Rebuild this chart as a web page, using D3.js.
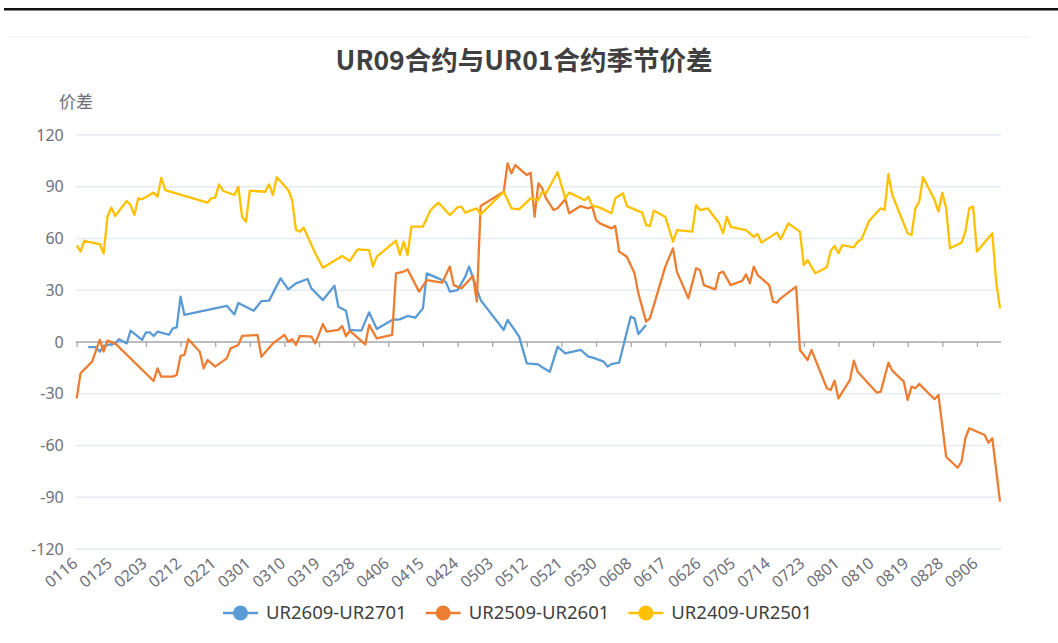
<!DOCTYPE html>
<html><head><meta charset="utf-8">
<script src="https://cdn.jsdelivr.net/npm/d3@7"></script>
<style>body{margin:0;background:#fff;} svg{display:block;}</style>
</head><body>
<svg id="c" width="1058" height="643"></svg>
<script>
const chartTitle = "UR09合约与UR01合约季节价差";
const yAxisName = "价差";
const yTicks = [-120, -90, -60, -30, 0, 30, 60, 90, 120];
const tickLabels = ["0116","0125","0203","0212","0221","0301","0310","0319","0328","0406","0415","0424","0503","0512","0521","0530","0608","0617","0626","0705","0714","0723","0801","0810","0819","0828","0906"];
const seriesNames = ["UR2609-UR2701", "UR2509-UR2601", "UR2409-UR2501"];
const seriesColors = ["#5B9BD5", "#ED7D31", "#FFC000"];

const ur2609 = [["0119",-3],["0121",-3],["0122",-5.6],["0123",-2.3],["0126",-0.8],["0127",1.6],["0129",-0.8],["0130",6.6],["0202",1.2],["0203",5.6],["0204",5.6],["0205",3.5],["0206",6],["0209",4.2],["0210",7.9],["0211",8.5],["0212",26.3],["0213",15.7],["0224",21],["0226",16],["0227",22.6],["0302",18.1],["0304",23.7],["0306",24],["0309",36.9],["0311",30.5],["0313",34],["0316",36.5],["0317",31.1],["0320",24.3],["0323",32.6],["0324",20.5],["0326",18.1],["0327",7],["0330",6.6],["0401",17.2],["0403",7.5],["0407",12.8],["0409",13.1],["0411",15.1],["0413",14.1],["0415",19.5],["0416",39.8],["0419",36.9],["0421",34.6],["0422",29.2],["0424",30.1],["0426",37.9],["0427",43.7],["0430",24.3],["0506",7],["0507",12.8],["0509",6.4],["0510",3.1],["0512",-12.4],["0515",-13],["0516",-14.7],["0518",-17.2],["0520",-2.7],["0522",-6.6],["0526",-4.6],["0528",-8.5],["0529",-8.9],["0601",-11.4],["0602",-14.3],["0603",-12.8],["0605",-12],["0608",14.7],["0609",13.7],["0610",4.6],["0612",9.9]];

const ur2509 = [["0116",-32.7],["0117",-18.1],["0120",-11.4],["0122",1.2],["0123",-5.6],["0124",0.8],["0126",-0.8],["0205",-22.6],["0206",-15.3],["0207",-20.1],["0210",-20.1],["0211",-19.1],["0212",-8.1],["0213",-7.5],["0214",1.6],["0217",-5.6],["0218",-15.3],["0219",-10.4],["0221",-14.3],["0224",-9.5],["0225",-3.7],["0227",-1.7],["0228",3.5],["0303",4.1],["0304",-8.5],["0307",-0.8],["0310",4.1],["0311",0.2],["0312",1.6],["0313",-1.7],["0314",3.5],["0317",3.1],["0318",-0.8],["0320",10.4],["0321",6],["0324",7],["0325",9.3],["0326",3.5],["0327",6.4],["0331",-1.4],["0401",9.9],["0403",2.1],["0407",4.1],["0408",39.8],["0410",40.8],["0411",42.1],["0414",29.2],["0416",35.9],["0420",34.4],["0422",43.7],["0423",33],["0425",31.1],["0428",38.3],["0429",23.4],["0430",78.8],["0506",87.1],["0507",103.6],["0508",97.8],["0509",102.6],["0512",96.8],["0513",98.1],["0514",72.6],["0515",92],["0516",89.1],["0517",83.3],["0519",76.5],["0520",77.5],["0522",82.7],["0523",74.6],["0526",78.8],["0528",77.5],["0529",78.5],["0530",70.7],["0531",68.8],["0603",65.9],["0604",67.2],["0605",52.4],["0607",49.4],["0609",39.8],["0610",28.2],["0612",11.8],["0613",13.7],["0617",43.7],["0619",54.3],["0620",40.8],["0623",25.3],["0625",42.7],["0626",41.7],["0627",33],["0630",30.5],["0701",39.8],["0702",40.8],["0704",33],["0707",35.4],["0708",39.2],["0709",34],["0710",43.7],["0711",38.8],["0714",33],["0715",23.4],["0716",22.8],["0717",25.3],["0721",32.1],["0722",-4.6],["0724",-10.4],["0725",-4.6],["0729",-26.8],["0730",-27.8],["0731",-22.4],["0801",-32.7],["0804",-22],["0805",-10.8],["0806",-17.2],["0811",-29.4],["0812",-28.8],["0814",-12],["0815",-16.6],["0818",-23],["0819",-33.6],["0820",-25.9],["0821",-26.8],["0822",-24.3],["0826",-33.2],["0827",-30.7],["0829",-66.5],["0901",-72.9],["0902",-69.4],["0903",-55.8],["0904",-50],["0908",-53.9],["0909",-58.4],["0910",-55.8],["0912",-92.6]];

const ur2409 = [["0116",56],["0117",52.4],["0118",58.7],["0119",58],["0122",56.8],["0123",51.4],["0124",72.6],["0125",78],["0126",73],["0129",81.7],["0130",79.4],["0131",73.6],["0201",83.3],["0202",82.7],["0205",86.6],["0206",84.2],["0207",95.2],["0208",88.1],["0219",80.8],["0220",83.3],["0221",83.7],["0222",91.4],["0223",87.7],["0226",85.2],["0227",90],["0228",72.6],["0229",69.7],["0301",87.7],["0305",87.1],["0306",91.4],["0307",85.2],["0308",95.5],["0311",88.1],["0312",82.3],["0313",65],["0314",64],["0315",66.3],["0318",51.4],["0320",43.1],["0325",49.9],["0327",47],["0329",53.7],["0401",53.3],["0402",43.7],["0403",49.5],["0408",58.7],["0409",50.4],["0410",58.1],["0411",50.4],["0412",66.9],["0415",66.9],["0417",76.5],["0419",80.8],["0422",73.6],["0424",78.1],["0425",78.5],["0426",75],["0429",77.5],["0430",74],["0506",87.1],["0508",77.5],["0510",76.9],["0513",83.3],["0515",82.3],["0516",87.1],["0517",86.2],["0520",98.4],["0522",83.3],["0523",86.6],["0527",82.3],["0528",84.2],["0529",79],["0531",77.9],["0603",74.6],["0604",83.3],["0606",86.2],["0607",78.8],["0611",75],["0612",67.8],["0613",67.2],["0614",76.1],["0617",72.6],["0619",58.2],["0620",64.9],["0624",64],["0625",79.4],["0626",76.5],["0628",77.5],["0701",68.8],["0702",63],["0703",72.6],["0704",66.8],["0708",64.9],["0710",61],["0711",62.6],["0712",57.6],["0716",63.4],["0717",59.5],["0719",68.8],["0722",64],["0723",44.6],["0724",47.5],["0726",39.8],["0729",43.3],["0730",52.9],["0731",55.7],["0801",51.4],["0802",56.1],["0805",54.9],["0806",58.1],["0807",59.5],["0809",70.3],["0812",77.5],["0813",76.5],["0814",97.4],["0815",85.2],["0819",63],["0820",62],["0821",77.5],["0822",81.3],["0823",95.5],["0826",82.3],["0827",75.5],["0828",86.6],["0829",77.5],["0830",54.3],["0902",57.6],["0903",64],["0904",77.5],["0905",78.5],["0906",52.4],["0910",63],["0911",35],["0912",19.5]];

const seriesData = [ur2609, ur2509, ur2409];

// categories: calendar days (MMDD) from 0116 to 0912
const fmt = d3.timeFormat("%m%d");
const categories = d3.timeDay.range(new Date(2024, 0, 16), new Date(2024, 8, 13)).map(fmt);

const svg = d3.select("#c");
const plotL = 76.7, plotR = 1000, plotT = 135, plotB = 549;
const font = "'Noto Sans', 'Noto Sans CJK SC', sans-serif";

// decorations
svg.append("rect").attr("x", 4).attr("y", 8).attr("width", 1054).attr("height", 2.5).attr("fill", "#111");
svg.append("rect").attr("x", 8).attr("y", 36).attr("width", 1022).attr("height", 2).attr("fill", "#f6f6f6");

const x = d3.scalePoint().domain(categories).range([plotL, plotR]);
const y = d3.scaleLinear().domain([-120, 120]).range([plotB, plotT]);

// grid
svg.append("g").selectAll("line").data(yTicks.filter(v => v !== 0)).join("line")
  .attr("x1", plotL - 1).attr("x2", 1001)
  .attr("y1", d => y(d)).attr("y2", d => y(d))
  .attr("stroke", "#e6ebf3").attr("stroke-width", 1.5);

// y axis labels
const yAxis = d3.axisLeft(y).tickValues(yTicks).tickSize(0).tickPadding(13).tickFormat(d => String(d));
const yg = svg.append("g").attr("transform", `translate(${plotL},0)`).call(yAxis);
yg.select(".domain").remove();
yg.selectAll("text").attr("font-family", font).attr("font-size", 16).attr("fill", "#6e7079");

// axis name
svg.append("text").attr("x", 76).attr("y", 108).attr("text-anchor", "middle")
  .attr("font-family", font).attr("font-size", 17).attr("fill", "#6e7079").text(yAxisName);

// zero axis line with ticks
const xAxis = d3.axisBottom(x).tickValues(tickLabels).tickSize(5).tickFormat("");
const xg = svg.append("g").attr("transform", `translate(0,${y(0)})`).call(xAxis);
xg.select(".domain").attr("stroke", "#a5a7ad").attr("stroke-width", 1.6).attr("d", `M${plotL - 1},0H1001`);
xg.selectAll(".tick line").attr("stroke", "#a5a7ad").attr("stroke-width", 1.3);

// x labels at bottom, rotated
svg.append("g").selectAll("text").data(tickLabels).join("text")
  .attr("transform", d => `translate(${x(d) + 2},${plotB + 16}) rotate(-40)`)
  .attr("text-anchor", "end")
  .attr("font-family", font).attr("font-size", 16).attr("fill", "#6e7079")
  .text(d => d);

// lines
const line = d3.line().x(d => x(d[0])).y(d => y(d[1]));
seriesData.forEach((s, i) => {
  svg.append("path").datum(s).attr("d", line)
    .attr("fill", "none").attr("stroke", seriesColors[i]).attr("stroke-width", 2.3)
    .attr("stroke-linejoin", "round");
});

// title
svg.append("text").attr("x", 524).attr("y", 70).attr("text-anchor", "middle")
  .attr("font-family", "'Noto Sans CJK SC', sans-serif").attr("font-weight", "bold")
  .attr("font-size", 26.5).attr("fill", "#404040").text(chartTitle);

// legend
const lg = svg.append("g");
let cx = 0;
seriesNames.forEach((n, i) => {
  const g = lg.append("g");
  g.append("line").attr("x1", 0).attr("x2", 35).attr("y1", 0).attr("y2", 0)
    .attr("stroke", seriesColors[i]).attr("stroke-width", 2.5);
  g.append("circle").attr("cx", 17.5).attr("cy", 0).attr("r", 7.5).attr("fill", seriesColors[i]);
  const t = g.append("text").attr("x", 43).attr("y", 0).attr("dy", "0.35em")
    .attr("font-family", font).attr("font-size", 18.5).attr("fill", "#404040").text(n);
  const w = 43 + t.node().getComputedTextLength();
  g.attr("transform", `translate(${cx},613)`);
  cx += w + 19;
});
const total = cx - 19;
lg.attr("transform", `translate(${517.5 - total / 2},0)`);
</script>
</body></html>
